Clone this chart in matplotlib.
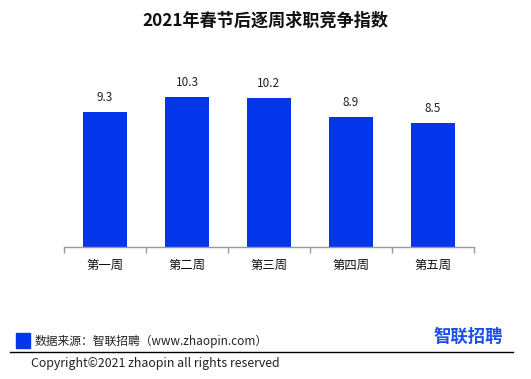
import matplotlib
matplotlib.use("Agg")
import matplotlib.pyplot as plt
import numpy as np
from matplotlib.patches import Rectangle
from matplotlib.lines import Line2D

plt.rcParams["font.family"] = ["Noto Sans CJK SC", "DejaVu Sans"]

weeks = ["第一周", "第二周", "第三周", "第四周", "第五周"]
index_values = [9.3, 10.3, 10.2, 8.9, 8.5]

BAR_COLOR = "#0336EA"
AXIS_COLOR = "#999999"

fig = plt.figure(figsize=(5.31, 3.79), dpi=100)
ax = fig.add_axes([0.1205, 0.3483, 0.772, 0.4934])

x = np.arange(len(weeks))
bars = ax.bar(x, index_values, width=0.53, color=BAR_COLOR, zorder=2)
for xi, v in zip(x, index_values):
    ax.text(xi, v + 0.55, f"{v:.1f}", ha="center", va="bottom", fontsize=8.5, color="#222222")

ax.set_xlim(-0.5, len(weeks) - 0.5)
ax.set_ylim(0, 12.84)

ax.set_xticks(np.arange(len(weeks) + 1) - 0.5)
ax.set_xticklabels([])
ax.tick_params(axis="x", which="major", length=4, width=1, color=AXIS_COLOR, direction="out")
ax.set_xticks(x, minor=True)
ax.set_xticklabels(weeks, minor=True, fontsize=8.9, color="#111111")
ax.tick_params(axis="x", which="minor", length=0, pad=8.5)
ax.set_yticks([])

for side in ["top", "right", "left"]:
    ax.spines[side].set_visible(False)
ax.spines["bottom"].set_color(AXIS_COLOR)
ax.spines["bottom"].set_linewidth(1)

fig.text(0.5, 1 - 21 / 379, "2021年春节后逐周求职竞争指数", ha="center", va="center",
         fontsize=12.3, fontweight="bold", color="#111111")

# footer: legend swatch, source, logo, rule, copyright
fig.patches.append(Rectangle((16 / 531, 1 - 348 / 379), 14 / 531, 15 / 379,
                             transform=fig.transFigure, color=BAR_COLOR))
fig.text(35 / 531, 1 - 341 / 379, "数据来源：智联招聘（www.zhaopin.com）", ha="left", va="center",
         fontsize=8.5, color="#222222")
fig.text(503 / 531, 1 - 337 / 379, "智联招聘", ha="right", va="center",
         fontsize=12.5, fontweight="bold", color="#1E4FEA")
fig.lines.append(Line2D([10 / 531, 513 / 531], [1 - 352 / 379, 1 - 352 / 379],
                        transform=fig.transFigure, color="black", linewidth=1))
fig.text(31 / 531, 1 - 364 / 379, "Copyright©2021 zhaopin all rights reserved", ha="left", va="center",
         fontsize=8.9, color="#222222")

fig.savefig("out.png", dpi=100)
